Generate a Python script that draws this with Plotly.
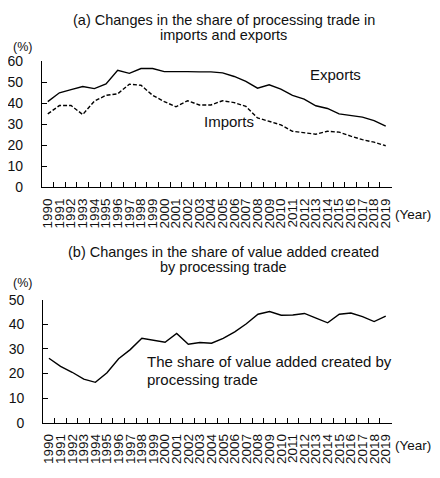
import plotly.graph_objects as go

years = [str(y) for y in range(1990, 2020)]
exports = [40.8, 45.0, 46.5, 48.0, 47.0, 49.2, 55.7, 54.3, 56.6, 56.6,
           55.1, 55.2, 55.1, 55.0, 55.0, 54.5, 52.8, 50.5, 47.2, 48.8,
           46.8, 43.8, 42.0, 38.8, 37.5, 34.9, 34.0, 33.4, 31.7, 29.1]
imports = [34.9, 38.9, 38.9, 34.6, 41.0, 43.8, 44.5, 49.1, 48.6, 43.8,
           40.8, 38.3, 41.2, 39.2, 39.2, 41.2, 40.3, 38.5, 33.0, 31.5,
           29.7, 26.6, 26.0, 25.2, 26.6, 26.2, 24.3, 22.6, 21.4, 19.7]
value_added = [26.2, 22.9, 20.5, 17.7, 16.4, 20.3, 26.0, 29.7, 34.3, 33.6,
               32.7, 36.3, 31.9, 32.6, 32.3, 34.3, 36.9, 40.2, 44.1, 45.2,
               43.7, 43.8, 44.4, 42.5, 40.6, 44.1, 44.6, 43.1, 41.1, 43.3]
yticks_a = [0, 10, 20, 30, 40, 50, 60]
yticks_b = [0, 10, 20, 30, 40, 50]

# page body has an 8px margin; shrink the figure so it fits the 440x478 window
OX, OY = 8, 8
W, H = 440 - OX, 478 - OY
FONT = "Liberation Sans, Arial, sans-serif"
TXT = "#111111"

def px(x):
    return (x - OX) / W

def py(y):
    return 1 - (y - OY) / H

fig = go.Figure()
fig.add_trace(go.Scatter(x=years, y=exports, mode="lines", xaxis="x", yaxis="y",
                         line=dict(color="black", width=1.4), showlegend=False))
fig.add_trace(go.Scatter(x=years, y=imports, mode="lines", xaxis="x", yaxis="y",
                         line=dict(color="black", width=1.4, dash="4px,2px"), showlegend=False))
fig.add_trace(go.Scatter(x=years, y=value_added, mode="lines", xaxis="x2", yaxis="y2",
                         line=dict(color="black", width=1.4), showlegend=False))

xax = dict(type="category", range=[-0.5, 29.5], tickson="boundaries", ticks="inside",
           tickmode="linear", tick0=0, dtick=1,
           ticklen=5, tickcolor="black", tickwidth=1, showline=True, linecolor="black",
           linewidth=1, showgrid=False, zeroline=False, tickangle=-90,
           tickfont=dict(family=FONT, size=13.5, color=TXT), ticklabelstandoff=5,
           fixedrange=True)
yax = dict(ticks="inside", ticklen=5, tickcolor="black", tickwidth=1, showline=True,
           linecolor="black", linewidth=1, showgrid=False, zeroline=False,
           tickfont=dict(family=FONT, size=14, color=TXT), ticklabelstandoff=15,
           fixedrange=True)

fig.update_layout(
    width=W, height=H, margin=dict(l=0, r=0, t=0, b=0),
    paper_bgcolor="white", plot_bgcolor="white",
    xaxis=dict(xax, domain=[px(39.3), px(393)], anchor="y"),
    yaxis=dict(yax, domain=[py(185), py(55)], range=[0, 60], tickvals=yticks_a, anchor="x"),
    xaxis2=dict(xax, domain=[px(40.5), px(393)], anchor="y2"),
    yaxis2=dict(yax, domain=[py(429), py(301.7)], range=[0, 50], tickvals=yticks_b, anchor="x2"),
)

def txt(x, y, s, size=14, xanchor="left"):
    fig.add_annotation(x=px(x), y=py(y), xref="paper", yref="paper", text=s,
                       showarrow=False, xanchor=xanchor, yanchor="middle",
                       font=dict(family=FONT, size=size, color=TXT))

txt(223, 12, "(a) Changes in the share of processing trade in", size=14.5, xanchor="center")
txt(223, 28, "imports and exports", size=14.5, xanchor="center")
txt(223, 252, "(b) Changes in the share of value added created", size=14.5, xanchor="center")
txt(223, 268, "by processing trade", size=14.5, xanchor="center")
txt(8, 40, "(%)", size=12.5)
txt(8, 284, "(%)", size=12.5)
txt(394, 213, "(Year)", size=13.5)
txt(394, 453, "(Year)", size=13.5)
txt(308, 69, "Exports", size=15)
txt(201, 117, "Imports", size=15)
txt(144, 366, "The share of value added created by", size=15)
txt(144, 384, "processing trade", size=15)

fig.write_html("out.html")
